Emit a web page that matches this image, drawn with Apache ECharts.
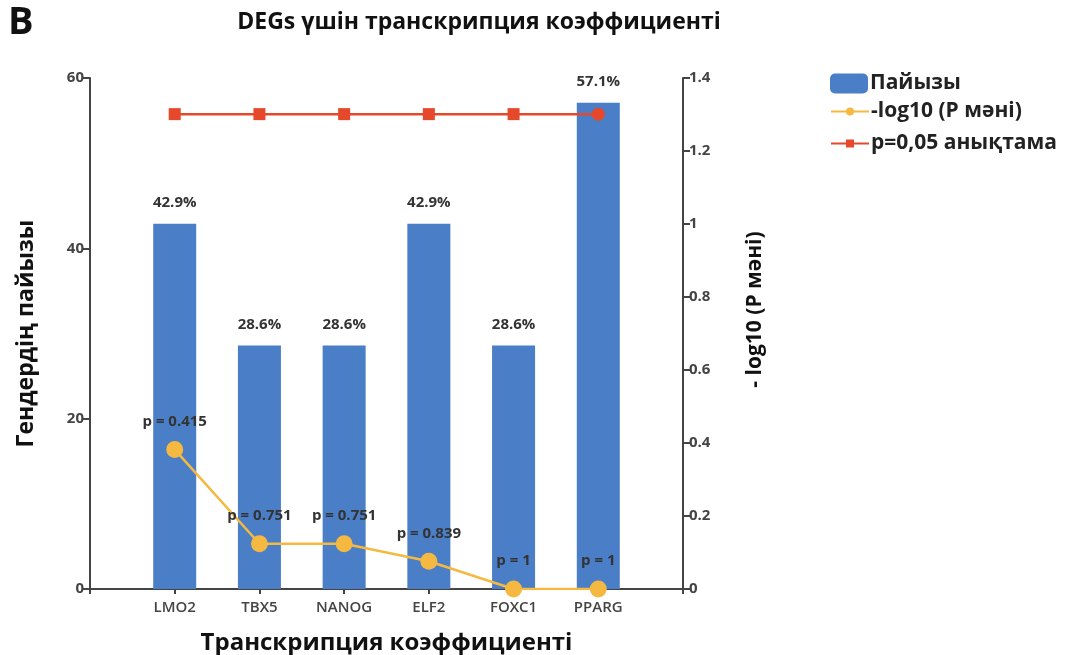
<!DOCTYPE html>
<html><head><meta charset="utf-8">
<script src="https://cdn.jsdelivr.net/npm/echarts@6/dist/echarts.min.js"></script>
<style>html,body{margin:0;padding:0;background:#fff}#c{width:1084px;height:655px}</style>
</head><body><div id="c"></div>
<script>
const categories = ['LMO2','TBX5','NANOG','ELF2','FOXC1','PPARG'];
const percentages = [42.9, 28.6, 28.6, 42.9, 28.6, 57.1];
const pValues = [0.415, 0.751, 0.751, 0.839, 1, 1];
const negLog10P = [0.382, 0.124, 0.124, 0.076, 0, 0];
const threshold = [1.301, 1.301, 1.301, 1.301, 1.301, 1.301];
const leftTicks = [0, 20, 40, 60];
const rightTicks = [0, 0.2, 0.4, 0.6, 0.8, 1, 1.2, 1.4];

const FONT = '"Open Sans", "Noto Sans", sans-serif';
const pad = arr => [null].concat(arr, [null]);
const xCats = [''].concat(categories, ['']);
const thresholdData = pad(threshold).map((v, i) =>
  (i === categories.length) ? {value: v, symbol: 'circle', symbolSize: 13} : v);

const chart = echarts.init(document.getElementById('c'));
chart.setOption({
  animation: false,
  textStyle: {fontFamily: FONT},
  title: {
    text: 'DEGs үшін транскрипция коэффициенті',
    left: 474, top: 6, textAlign: 'center',
    textStyle: {fontFamily: FONT, fontWeight: 'bold', fontSize: 23, color: '#111'}
  },
  graphic: [{
    type: 'text', left: 8, top: 4,
    style: {text: 'B', font: 'bold 38px ' + FONT, fill: '#111'}
  }],
  legend: [{
    orient: 'vertical', left: 830, top: 73, padding: 0, itemWidth: 38, itemHeight: 20,
    textStyle: {fontFamily: FONT, fontWeight: 'bold', fontSize: 21, color: '#222', padding: [0,0,0,-3]},
    data: ['Пайызы']
  }, {
    orient: 'vertical', left: 830, top: 101, padding: 0, itemWidth: 38, itemHeight: 10, itemGap: 11,
    textStyle: {fontFamily: FONT, fontWeight: 'bold', fontSize: 21, color: '#222', padding: [0,0,0,-3]},
    data: ['-log10 (P мәні)', 'p=0,05 анықтама']
  }],
  grid: {left: 90, right: 401, top: 78, bottom: 66, containLabel: false, outerBoundsMode: 'none'},
  xAxis: {
    type: 'category', data: xCats, boundaryGap: false,
    name: 'Транскрипция коэффициенті', nameLocation: 'middle', nameGap: 42,
    nameTextStyle: {fontFamily: FONT, fontWeight: 'bold', fontSize: 24, color: '#111'},
    axisLine: {lineStyle: {color: '#444', width: 2}},
    axisTick: {show: true, length: 5, lineStyle: {color: '#444', width: 2}},
    axisLabel: {fontSize: 15, color: '#444', margin: 11, fontFamily: FONT, fontWeight: 600},
    splitLine: {show: false}
  },
  yAxis: [{
    type: 'value', min: 0, max: 60, interval: 20, position: 'left',
    name: 'Гендердің пайызы', nameLocation: 'middle', nameGap: 52, nameRotate: 90,
    nameTextStyle: {fontFamily: FONT, fontWeight: 'bold', fontSize: 23, color: '#111'},
    axisLine: {show: true, lineStyle: {color: '#444', width: 2}},
    axisTick: {show: true, length: 7, lineStyle: {color: '#444', width: 2}},
    axisLabel: {fontSize: 15, fontWeight: 'bold', color: '#444', margin: 6,
      formatter: v => leftTicks.indexOf(v) >= 0 ? String(v) : ''},
    splitLine: {show: false}
  }, {
    type: 'value', min: 0, max: 1.4, interval: 0.2, position: 'right',
    name: '- log10 (P мәні)', nameLocation: 'middle', nameGap: 62, nameRotate: 90,
    nameTextStyle: {fontFamily: FONT, fontWeight: 'bold', fontSize: 21, color: '#111', padding: [0,0,0,48]},
    axisLine: {show: true, lineStyle: {color: '#444', width: 2}},
    axisTick: {show: true, length: 7, lineStyle: {color: '#444', width: 2}},
    axisLabel: {fontSize: 15, fontWeight: 'bold', color: '#444', margin: 6,
      formatter: v => { const r = Math.round(v*10)/10; return rightTicks.indexOf(r) >= 0 ? String(r) : ''; }},
    splitLine: {show: false}
  }],
  series: [{
    name: 'Пайызы', type: 'bar', yAxisIndex: 0, barWidth: 43,
    itemStyle: {color: '#4A7EC7'},
    data: pad(percentages),
    label: {show: true, position: 'top', distance: 13, formatter: p => p.value + '%',
      fontSize: 15, fontWeight: 'bold', color: '#333', fontFamily: FONT},
    z: 1
  }, {
    name: '-log10 (P мәні)', type: 'line', yAxisIndex: 1,
    symbol: 'circle', symbolSize: 17,
    itemStyle: {color: '#F5B942'}, lineStyle: {color: '#F5B942', width: 2.5},
    data: pad(negLog10P),
    label: {show: true, position: 'top', distance: 12,
      formatter: p => 'p = ' + pValues[p.dataIndex - 1],
      fontSize: 15, fontWeight: 'bold', color: '#333', fontFamily: FONT},
    z: 3
  }, {
    name: 'p=0,05 анықтама', type: 'line', yAxisIndex: 1,
    symbol: 'rect', symbolSize: 12,
    itemStyle: {color: '#E5482A'}, lineStyle: {color: '#E5482A', width: 2.5},
    data: thresholdData,
    z: 4
  }]
});
</script></body></html>
